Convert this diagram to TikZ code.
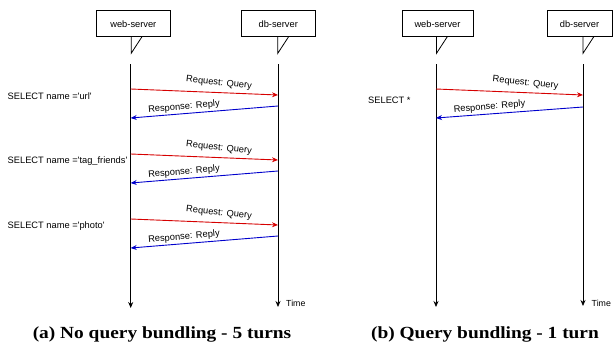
\documentclass[tikz,border=0pt]{standalone}
\usepackage{fontspec}
\setmainfont{Liberation Sans}
\newfontfamily\capfont[FakeStretch=1.14]{Liberation Serif}
\usetikzlibrary{arrows.meta,calc}
\definecolor{reqred}{RGB}{214,0,0}
\definecolor{respblue}{RGB}{0,0,204}
\tikzset{
  callbox/.style={draw, fill=white, line width=0.8pt, minimum height=26pt, inner sep=0pt, font=\fontsize{9.3}{11}\selectfont},
  tail/.style={draw, line width=0.8pt},
  lifeline/.style={draw, line width=0.8pt, -{Stealth[length=6pt,width=5pt]}},
  reqarrow/.style={draw=reqred, line width=0.9pt, -{Stealth[length=6pt,width=5pt]}},
  resparrow/.style={draw=respblue, line width=0.9pt, -{Stealth[length=6pt,width=5pt]}},
  msglbl/.style={font=\fontsize{9.3}{11}\selectfont, inner sep=0pt},
  sqllbl/.style={font=\fontsize{9.3}{11}\selectfont, inner sep=0pt, anchor=west},
  timelbl/.style={font=\fontsize{8.8}{10}\selectfont, inner sep=0pt, anchor=west},
  caplbl/.style={font=\capfont\bfseries\fontsize{17}{20}\selectfont, inner sep=0pt, anchor=base}
}
\begin{document}
\begin{tikzpicture}[x=1pt,y=-1pt]
\useasboundingbox (0,0) rectangle (616,343);
% ---------- panel (a) ----------
\node[callbox, minimum width=74.7pt] (wa) at (133.35,23.7) {web-server};
\node[callbox, minimum width=73.5pt] (da) at (278.25,23.7) {db-server};
\draw[tail] (131.2,36.7) -- (131.2,53.3) -- (142,36.7);
\draw[tail] (277.8,36.7) -- (277.8,53.3) -- (288.6,36.7);
\coordinate (wat) at (130.7,64); \coordinate (wab) at (130.7,308);
\coordinate (dat) at (278,64); \coordinate (dab) at (278,307);
\draw[lifeline] (wat) -- (wab);
\draw[lifeline] (dat) -- (dab);
\node[timelbl] (ta) at (286,303) {Time};
\foreach \k/\q in {0/{SELECT name =\textquotesingle url\textquotesingle},1/{SELECT name =\textquotesingle tag\_friends\textquotesingle},2/{SELECT name =\textquotesingle photo\textquotesingle}}{
  \pgfmathsetmacro{\o}{65*\k}
  \coordinate (rqs\k) at (130.7,89+\o); \coordinate (rqe\k) at (278,95+\o);
  \coordinate (rps\k) at (278,106+\o); \coordinate (rpe\k) at (130.7,118+\o);
  \draw[reqarrow] (rqs\k) -- (rqe\k);
  \draw[resparrow] (rps\k) -- (rpe\k);
  \node[msglbl, rotate=-6] (rql\k) at (219,83+\o) {Request: Query};
  \node[msglbl, rotate=5] (rpl\k) at (184,107+\o) {Response: Reply};
  \node[sqllbl] (sq\k) at (7.5,96+\o) {\q};
}
\node[caplbl] (capa) at (162,338.3) {(a) No query bundling - 5 turns};
% ---------- panel (b) ----------
\node[callbox, minimum width=71pt] (wb) at (437.5,23.7) {web-server};
\node[callbox, minimum width=65pt] (db) at (579.5,23.7) {db-server};
\draw[tail] (436.5,36.7) -- (436.5,53.3) -- (447.3,36.7);
\draw[tail] (583,36.7) -- (583,53.3) -- (593.8,36.7);
\coordinate (wbt) at (436,64); \coordinate (wbb) at (436,307);
\coordinate (dbt) at (583,64); \coordinate (dbb) at (583,306);
\draw[lifeline] (wbt) -- (wbb);
\draw[lifeline] (dbt) -- (dbb);
\node[timelbl] (tb) at (591.5,303) {Time};
\coordinate (brqs) at (436,89); \coordinate (brqe) at (583,95);
\coordinate (brps) at (583,107); \coordinate (brpe) at (436,118);
\draw[reqarrow] (brqs) -- (brqe);
\draw[resparrow] (brps) -- (brpe);
\node[msglbl, rotate=-6] (brql) at (525.5,83) {Request: Query};
\node[msglbl, rotate=5] (brpl) at (489.5,107) {Response: Reply};
\node[sqllbl] (bsq) at (368,100) {SELECT *};
\node[caplbl] (capb) at (485,338.3) {(b) Query bundling - 1 turn};
\end{tikzpicture}
\end{document}
